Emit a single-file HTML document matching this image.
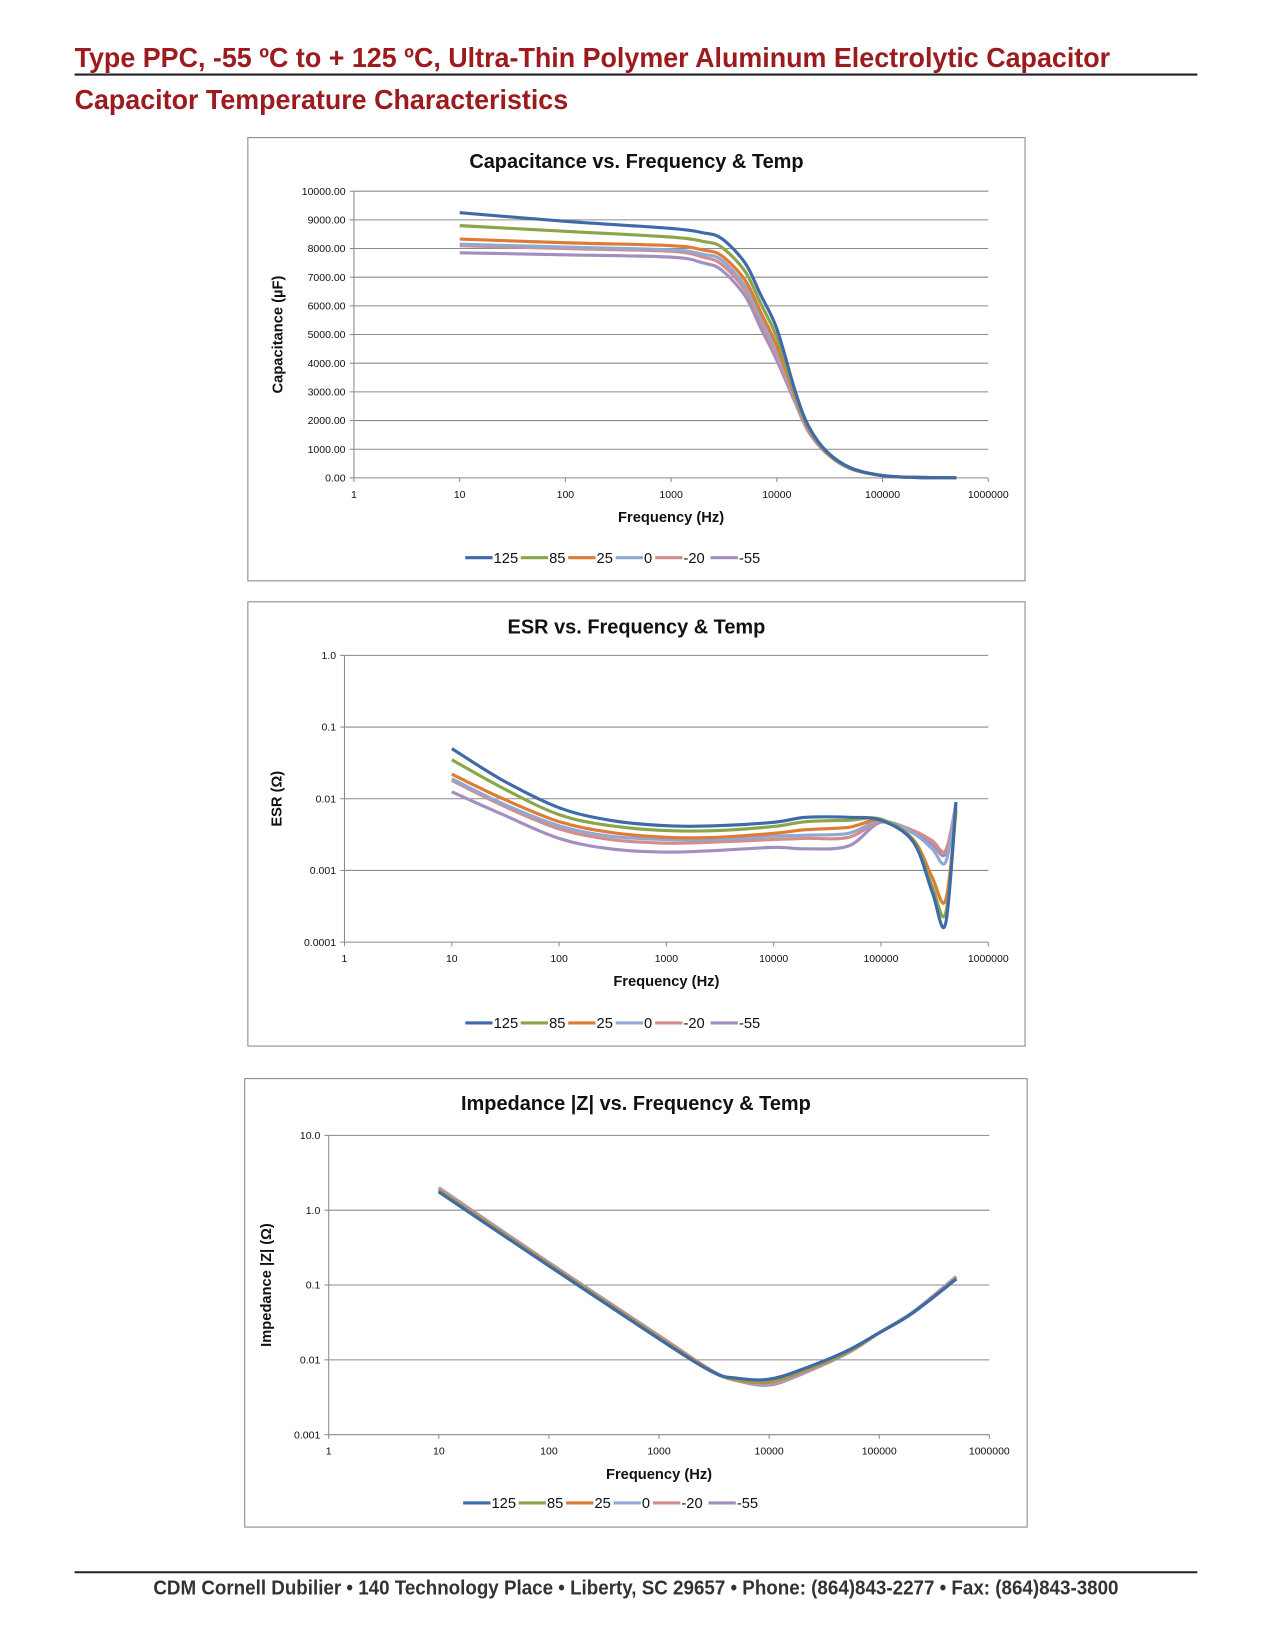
<!DOCTYPE html>
<html><head><meta charset="utf-8"><style>
html,body{margin:0;padding:0;background:#fff;}
svg{display:block;}
text{font-family:"Liberation Sans Narrow","Liberation Sans",sans-serif;}
</style></head><body>
<svg id="root" width="1275" height="1650" viewBox="0 0 1214 1571" xmlns="http://www.w3.org/2000/svg">
<text x="71" y="64" font-size="26" font-weight="bold" fill="#9b1b1f" textLength="986" lengthAdjust="spacingAndGlyphs">Type PPC, -55 ºC to + 125 ºC, Ultra-Thin Polymer Aluminum Electrolytic Capacitor</text>
<line x1="71" y1="71" x2="1140" y2="71" stroke="#222" stroke-width="2"/>
<text x="71" y="104" font-size="26" font-weight="bold" fill="#9b1b1f" textLength="470" lengthAdjust="spacingAndGlyphs">Capacitor Temperature Characteristics</text>
<line x1="71" y1="1497" x2="1140" y2="1497" stroke="#222" stroke-width="2"/>
<text x="146" y="1518" font-size="19" font-weight="bold" fill="#333" textLength="919" lengthAdjust="spacingAndGlyphs">CDM Cornell Dubilier • 140 Technology Place • Liberty, SC 29657 • Phone: (864)843-2277 • Fax: (864)843-3800</text>
<g id="charts"></g>
</svg>
<script>
const seriesNames = ["125","85","25","0","-20","-55"];
const seriesColors = ["#3f6aa8","#8aa54a","#e07b35","#8fa9d4","#d48c8c","#a28fbf"];

const capFreq = [10,100,1000,2000,3000,5000,7000,10000,15000,20000,30000,50000,100000,200000,500000];
const cap125 = [9250,8950,8700,8550,8350,7500,6400,5200,3000,1800,900,350,80,20,5];
const cap85  = [8800,8600,8400,8250,8050,7200,6100,4900,2900,1750,880,340,80,20,5];
const cap25  = [8330,8200,8100,7950,7750,6900,5800,4600,2800,1700,860,330,80,20,5];
const cap0   = [8150,8050,7950,7800,7600,6700,5600,4400,2700,1650,850,320,80,20,5];
const capM20 = [8100,8000,7900,7700,7450,6550,5450,4250,2650,1620,840,320,80,20,5];
const capM55 = [7850,7780,7700,7500,7250,6350,5250,4100,2600,1600,830,310,80,20,5];
const capTicks = ["0.00","1000.00","2000.00","3000.00","4000.00","5000.00","6000.00","7000.00","8000.00","9000.00","10000.00"];

const esrFreq = [10,30,100,300,1000,3000,10000,20000,50000,100000,200000,300000,400000,500000];
const esr125 = [0.05,0.018,0.0075,0.005,0.0042,0.0042,0.0047,0.0055,0.0055,0.005,0.0025,0.0005,0.00018,0.009];
const esr85  = [0.035,0.014,0.006,0.0042,0.0036,0.0036,0.0041,0.0048,0.005,0.0052,0.0026,0.0006,0.00025,0.007];
const esr25  = [0.022,0.010,0.0048,0.0034,0.0029,0.0029,0.0033,0.0037,0.004,0.005,0.0027,0.0008,0.00038,0.0065];
const esr0   = [0.019,0.0085,0.0042,0.003,0.0027,0.0027,0.003,0.0031,0.0033,0.0049,0.0033,0.002,0.0013,0.008];
const esrM20 = [0.018,0.008,0.0038,0.0027,0.0024,0.0025,0.0027,0.0028,0.0029,0.0048,0.0036,0.0026,0.0019,0.0085];
const esrM55 = [0.0125,0.006,0.0028,0.002,0.0018,0.0019,0.0021,0.002,0.0022,0.0047,0.0034,0.0023,0.0017,0.0075];
const esrTicks = ["0.0001","0.001","0.01","0.1","1.0"];

const zFreq = [10,100,1000,3000,5000,10000,20000,50000,100000,200000,500000];
const z125 = [1.75,0.18,0.019,0.0070,0.0057,0.0055,0.0075,0.013,0.023,0.042,0.12];
const z85  = [1.8,0.185,0.0195,0.0070,0.0055,0.0052,0.0072,0.0125,0.023,0.042,0.12];
const z25  = [1.85,0.19,0.020,0.0071,0.0054,0.0050,0.0070,0.0122,0.023,0.042,0.122];
const z0   = [1.9,0.195,0.0205,0.0071,0.0054,0.0048,0.0068,0.012,0.023,0.043,0.125];
const zM20 = [1.95,0.198,0.021,0.0072,0.0053,0.0047,0.0066,0.012,0.023,0.043,0.128];
const zM55 = [2.0,0.2,0.021,0.0072,0.0053,0.0046,0.0065,0.012,0.023,0.043,0.13];
const zTicks = ["0.001","0.01","0.1","1.0","10.0"];

const xTicks = ["1","10","100","1000","10000","100000","1000000"];

const NS = "http://www.w3.org/2000/svg";
const root = document.getElementById("charts");
function mk(tag, attrs, parent){const e=document.createElementNS(NS,tag);for(const k in attrs)e.setAttribute(k,attrs[k]);(parent||root).appendChild(e);return e;}

function smoothPath(pts){
  let d="M"+pts[0][0].toFixed(1)+","+pts[0][1].toFixed(1);
  for(let i=0;i<pts.length-1;i++){
    const p0=pts[Math.max(0,i-1)],p1=pts[i],p2=pts[i+1],p3=pts[Math.min(pts.length-1,i+2)];
    const c1=[p1[0]+(p2[0]-p0[0])/6,p1[1]+(p2[1]-p0[1])/6];
    const c2=[p2[0]-(p3[0]-p1[0])/6,p2[1]-(p3[1]-p1[1])/6];
    d+=" C"+c1.map(v=>v.toFixed(1)).join(",")+" "+c2.map(v=>v.toFixed(1)).join(",")+" "+p2[0].toFixed(1)+","+p2[1].toFixed(1);
  }
  return d;
}

function drawChart(cfg){
  const g=mk("g",{});
  
  
  const box=mk("rect",{x:cfg.box[0],y:cfg.box[1],width:cfg.box[2],height:cfg.box[3],fill:"#fff",stroke:"#888","stroke-width":1},g);
  
  
  const cx=cfg.box[0]+cfg.box[2]/2;
  const t=mk("text",{x:cx,y:cfg.titleY,"font-size":19,"font-weight":"bold","text-anchor":"middle",fill:"#111"},g);
  t.textContent=cfg.title;
  
  
  const X=f=>cfg.x0+(Math.log10(f))*(cfg.x1-cfg.x0)/6;
  const Y=cfg.yFn;
  cfg.yTicks.forEach((lab)=>{
    const v=parseFloat(lab);
    const y=Y(v);
    const gl=mk("line",{x1:cfg.x0,x2:cfg.x1,y1:y,y2:y,stroke:"#8a8a8a","stroke-width":1},g);
    
    
    mk("line",{x1:cfg.x0-4,x2:cfg.x0,y1:y,y2:y,stroke:"#8a8a8a"},g);
    const tl=mk("text",{x:cfg.x0-8,y:y+3.5,"font-size":10,"text-anchor":"end",fill:"#111"},g);
    tl.textContent=lab;
    
    
  });
  const ax=mk("line",{x1:cfg.x0,x2:cfg.x0,y1:cfg.yTop,y2:cfg.yBot,stroke:"#8a8a8a"},g);
  
  
  xTicks.forEach(lab=>{
    const x=X(parseFloat(lab));
    mk("line",{x1:x,x2:x,y1:cfg.yBot,y2:cfg.yBot+4,stroke:"#8a8a8a"},g);
    const tl=mk("text",{x:x,y:cfg.yBot+19,"font-size":10,"text-anchor":"middle",fill:"#111"},g);
    tl.textContent=lab;
    
    
  });
  const xt=mk("text",{x:(cfg.x0+cfg.x1)/2,y:cfg.yBot+42,"font-size":14,"font-weight":"bold","text-anchor":"middle",fill:"#111"},g);
  xt.textContent="Frequency (Hz)";
  
  
  const yc=(cfg.yTop+cfg.yBot)/2;
  const yt=mk("text",{x:cfg.yTitleX,y:yc,"font-size":14,"font-weight":"bold","text-anchor":"middle",fill:"#111",transform:"rotate(-90 "+cfg.yTitleX+" "+yc+")"},g);
  yt.textContent=cfg.yTitle;
  
  
  for(let s=cfg.series.length-1;s>=0;s--){
    const pts=cfg.freq.map((f,i)=>[X(f),Y(cfg.series[s][i])]);
    const p=mk("path",{d:smoothPath(pts),fill:"none",stroke:seriesColors[s],"stroke-width":3,"stroke-linejoin":"round"},g);
    
    
  }
  let lx=cfg.legendX;
  seriesNames.forEach((n,s)=>{
    const ly=cfg.legendY;
    const ent=mk("g",{},g);
    
    
    mk("line",{x1:lx,x2:lx+26,y1:ly,y2:ly,stroke:seriesColors[s],"stroke-width":3},ent);
    const lt=mk("text",{x:lx+27,y:ly+5,"font-size":14,fill:"#111"},ent);
    lt.textContent=n;
    lx+=26+(n.length*7.6)+4;
  });
}

drawChart({name:"capacitance-chart",box:[236,131,740,422],title:"Capacitance vs. Frequency & Temp",titleY:160,
  x0:337,x1:941,yTop:182,yBot:455,yFn:v=>455-v*(273/10000),yTicks:capTicks,yTitle:"Capacitance  (µF)",yTitleX:269,
  freq:capFreq,series:[cap125,cap85,cap25,cap0,capM20,capM55],legendX:443,legendY:531});
drawChart({name:"esr-chart",box:[236,573,740,423],title:"ESR vs. Frequency & Temp",titleY:603,
  x0:328,x1:941,yTop:624,yBot:897,yFn:v=>624-Math.log10(v)*68.25,yTicks:esrTicks,yTitle:"ESR (Ω)",yTitleX:268,
  freq:esrFreq,series:[esr125,esr85,esr25,esr0,esrM20,esrM55],legendX:443,legendY:974});
drawChart({name:"impedance-chart",box:[233,1027,745,427],title:"Impedance |Z|  vs. Frequency & Temp",titleY:1057,
  x0:313,x1:942,yTop:1081,yBot:1366,yFn:v=>1081+(1-Math.log10(v))*71.25,yTicks:zTicks,yTitle:"Impedance |Z| (Ω)",yTitleX:258,
  freq:zFreq,series:[z125,z85,z25,z0,zM20,zM55],legendX:441,legendY:1431});
</script>
</body></html>
